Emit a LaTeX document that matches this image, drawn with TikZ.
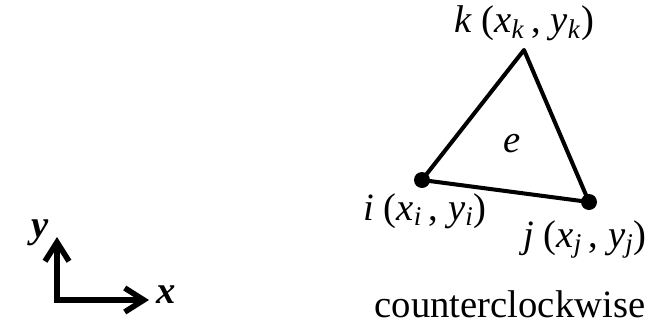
\documentclass[tikz,border=0pt]{standalone}
\usepackage{fontspec}
\setmainfont{Liberation Serif}
\usetikzlibrary{arrows.meta}

\tikzset{
  vertexdot/.style={circle, fill=black, inner sep=0pt, minimum size=0.32cm},
  edgeline/.style={line width=2.3pt, line join=round},
  axisline/.style={line width=3.2pt, -{Straight Barb[length=0.38cm, width=0.48cm]}},
  lbl/.style={font=\fontsize{22}{26}\selectfont, anchor=base}
}

\begin{document}
\begin{tikzpicture}
    \useasboundingbox (0,0) rectangle (12.98,6.6);

    % Element vertices
    \node[vertexdot] (vi) at (8.44, 3.0) {};
    \node[vertexdot] (vj) at (11.78, 2.56) {};
    \coordinate (vk) at (10.48, 5.6);

    % Element edges
    \draw[edgeline] (vi.center) -- (vj.center) -- (vk) -- cycle;

    % Labels
    \node[lbl] (lk) at (10.48, 5.96) {\textit{k} (\textit{x}\textsubscript{\textit{k}}\,, \textit{y}\textsubscript{\textit{k}})};
    \node[lbl] (li) at (8.5, 2.2) {\textit{i} (\textit{x}\textsubscript{\textit{i}}\,, \textit{y}\textsubscript{\textit{i}})};
    \node[lbl] (lj) at (11.7, 1.66) {\textit{j} (\textit{x}\textsubscript{\textit{j}}\,, \textit{y}\textsubscript{\textit{j}})};
    \node[lbl] (le) at (10.24, 3.55) {\textit{e}};
    \node[lbl] (ccw) at (10.2, 0.26) {counterclockwise};

    % Axes
    \coordinate (origin) at (1.14, 0.6);
    \coordinate (ytip) at (1.14, 1.86);
    \coordinate (xtip) at (2.98, 0.6);
    \draw[axisline] ([xshift=-1.6pt]origin) -- (xtip);
    \draw[axisline] ([yshift=-1.6pt]origin) -- (ytip);
    \node[lbl, anchor=base] (ylab) at (0.8, 1.86) {\textbf{\textit{y}}};
    \node[lbl, anchor=base west] (xlab) at (3.0, 0.54) {\textbf{\textit{x}}};
\end{tikzpicture}
\end{document}
